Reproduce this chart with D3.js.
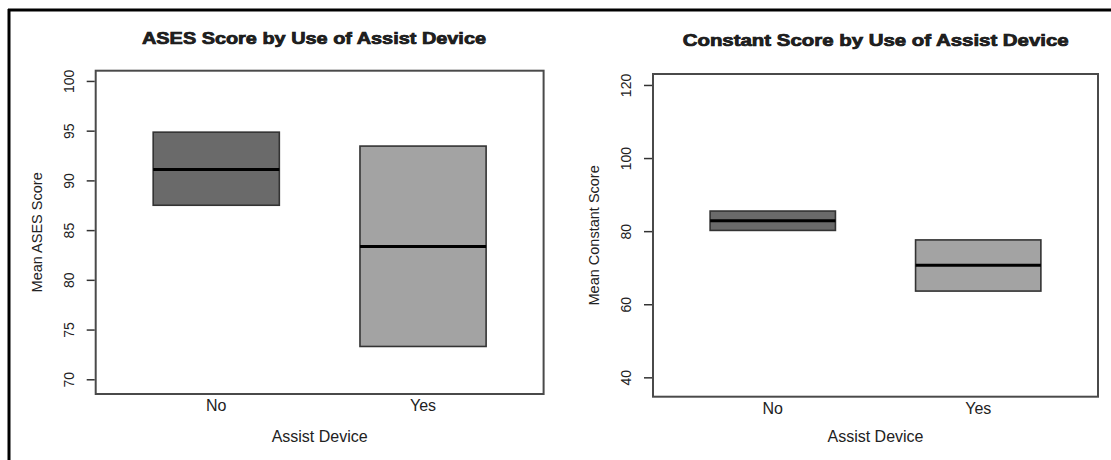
<!DOCTYPE html>
<html>
<head>
<meta charset="utf-8">
<script src="https://cdn.jsdelivr.net/npm/d3@7"></script>
<style>
  body { margin: 0; background: #fff; }
  text { font-family: "Liberation Sans", Arial, sans-serif; fill: #222; }
</style>
</head>
<body>
<div id="canvas"></div>
<script>
"use strict"

/***********************************
 DATA
************************************/
let groups = ["No", "Yes"];

// ASES score: box bottom, mean, box top
let asesLow = [87.5, 73.3];
let asesMean = [91.1, 83.35];
let asesHigh = [94.85, 93.45];
let asesTicks = [70, 75, 80, 85, 90, 95, 100];

// Constant score
let constLow = [80.2, 63.6];
let constMean = [82.85, 70.7];
let constHigh = [85.5, 77.6];
let constTicks = [40, 60, 80, 100, 120];

let boxFills = ["#6a6a6a", "#a3a3a3"];

/***********************************
 CANVAS
************************************/
let svgWidth = 1111;
let svgHeight = 460;

let svg = d3.select("#canvas")
    .append("svg")
    .attr("width", svgWidth)
    .attr("height", svgHeight);

// outer frame: only top and left edges show
svg.append("line")
    .attr("x1", 8).attr("x2", svgWidth)
    .attr("y1", 10).attr("y2", 10)
    .attr("stroke", "#000").attr("stroke-width", 3);
svg.append("line")
    .attr("x1", 9).attr("x2", 9)
    .attr("y1", 9).attr("y2", svgHeight)
    .attr("stroke", "#000").attr("stroke-width", 3);

/***********************************
 ONE PANEL
************************************/
function drawPanel(p) {
    let xScale = d3.scaleBand()
        .domain(groups)
        .range([p.left, p.right])
        .paddingInner(0.39)
        .paddingOuter(0.278);

    let yScale = d3.scaleLinear()
        .domain(p.yDomain)
        .range([p.bottom, p.top]);

    let rows = groups.map((g, i) => ({
        group: g, low: p.low[i], mean: p.mean[i], high: p.high[i], fill: boxFills[i]
    }));

    // boxes
    svg.append("g").selectAll("rect")
        .data(rows)
        .join("rect")
        .attr("x", d => xScale(d.group))
        .attr("width", xScale.bandwidth())
        .attr("y", d => yScale(d.high))
        .attr("height", d => yScale(d.low) - yScale(d.high))
        .attr("fill", d => d.fill)
        .attr("stroke", "#333")
        .attr("stroke-width", 1.6);

    // mean lines
    svg.append("g").selectAll("line")
        .data(rows)
        .join("line")
        .attr("x1", d => xScale(d.group))
        .attr("x2", d => xScale(d.group) + xScale.bandwidth())
        .attr("y1", d => yScale(d.mean))
        .attr("y2", d => yScale(d.mean))
        .attr("stroke", "#000")
        .attr("stroke-width", 3);

    // plot frame
    svg.append("rect")
        .attr("x", p.left)
        .attr("y", p.top)
        .attr("width", p.right - p.left)
        .attr("height", p.bottom - p.top)
        .attr("fill", "none")
        .attr("stroke", "#4a4a4a")
        .attr("stroke-width", 2);

    // y axis, labels parallel to the axis
    let yAxis = d3.axisLeft(yScale)
        .tickValues(p.ticks)
        .tickSize(8)
        .tickSizeOuter(0);

    let gy = svg.append("g")
        .attr("transform", `translate(${p.left - 1}, 0)`)
        .call(yAxis);
    gy.select(".domain").remove();
    gy.selectAll(".tick line").attr("stroke", "#333").attr("stroke-width", 1.5);
    gy.selectAll(".tick text")
        .attr("x", null).attr("dy", null)
        .attr("transform", "translate(-26, 0) rotate(-90)")
        .attr("text-anchor", "middle")
        .attr("dominant-baseline", "central")
        .attr("font-size", 14)
        .attr("fill", "#333");

    // x axis: category names only
    let xAxis = d3.axisBottom(xScale).tickSize(0).tickPadding(6);
    let gx = svg.append("g")
        .attr("transform", `translate(0, ${p.bottom})`)
        .call(xAxis);
    gx.select(".domain").remove();
    gx.selectAll(".tick text")
        .attr("font-size", 16)
        .attr("fill", "#333");

    // axis titles
    svg.append("text")
        .attr("x", (p.left + p.right) / 2)
        .attr("y", 436)
        .attr("text-anchor", "middle")
        .attr("dominant-baseline", "central")
        .attr("font-size", 16)
        .text("Assist Device");

    svg.append("text")
        .attr("transform", `translate(${p.left - 59}, ${(p.top + p.bottom) / 2}) rotate(-90)`)
        .attr("text-anchor", "middle")
        .attr("dominant-baseline", "central")
        .attr("font-size", 14.5)
        .text(p.yTitle);

    // title (heavy face, thickened with a thin stroke)
    svg.append("text")
        .attr("x", p.titleX)
        .attr("y", p.titleY)
        .attr("text-anchor", "middle")
        .attr("dominant-baseline", "central")
        .attr("font-size", 16)
        .attr("font-weight", "bold")
        .attr("fill", "#111")
        .attr("stroke", "#111")
        .attr("stroke-width", 0.7)
        .attr("textLength", p.titleWidth)
        .attr("lengthAdjust", "spacingAndGlyphs")
        .text(p.title);
}

drawPanel({
    left: 95.7, right: 543.6, top: 70.7, bottom: 394,
    yDomain: [68.52, 101.03],
    ticks: asesTicks,
    low: asesLow, mean: asesMean, high: asesHigh,
    yTitle: "Mean ASES Score",
    title: "ASES Score by Use of Assist Device",
    titleX: 314, titleY: 38, titleWidth: 344
});

drawPanel({
    left: 653, right: 1098, top: 74, bottom: 396.7,
    yDomain: [34.7, 123.0],
    ticks: constTicks,
    low: constLow, mean: constMean, high: constHigh,
    yTitle: "Mean Constant Score",
    title: "Constant Score by Use of Assist Device",
    titleX: 875.7, titleY: 40, titleWidth: 386
});
</script>
</body>
</html>
